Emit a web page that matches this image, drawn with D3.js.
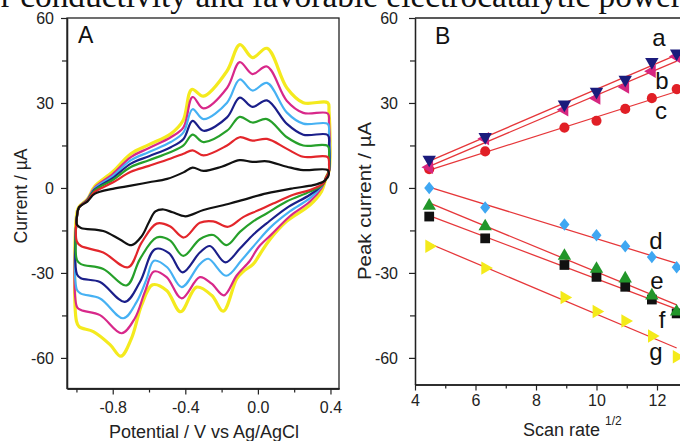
<!DOCTYPE html>
<html>
<head>
<meta charset="utf-8">
<script src="https://cdn.jsdelivr.net/npm/d3@7"></script>
<style>
  html, body { margin: 0; padding: 0; background: #fff; }
  svg { display: block; font-family: "Liberation Sans", Arial, sans-serif; }
</style>
</head>
<body>
<svg id="chart" width="680" height="441"></svg>
<script>
// Panel A: cyclic voltammograms, each a closed loop of [potential (V), current (uA)]
// upper (anodic) branch left -> right, then lower (cathodic) branch right -> left
const cvBlack = [
  [-0.997,-10],[-0.985,-6.8],[-0.94,-4.8],[-0.9,-2.1],[-0.8,-0.3],[-0.7,0.8],[-0.6,2],[-0.5,3.2],[-0.41,5.5],[-0.36,7.2],[-0.3,6],[-0.2,7.5],[-0.1,9.8],[-0.03,9.2],[0.05,9.4],[0.16,7.5],[0.25,6.3],[0.385,6.3],[0.39,4.5],[0.375,3],
  [0.36,2.2],[0.305,1.0],[0.195,-0.1],[0.048,-1.9],[-0.081,-4.2],[-0.154,-5.5],[-0.3,-7.8],[-0.4,-10],[-0.47,-8.6],[-0.52,-7.6],[-0.565,-8.3],[-0.6,-12],[-0.64,-17],[-0.696,-20.2],[-0.76,-18.2],[-0.852,-15.2],[-0.975,-14.1],[-0.997,-13]
];
const cvRed = [
  [-0.997,-10],[-0.985,-6.8],[-0.94,-4.5],[-0.9,-1.4],[-0.8,1.9],[-0.7,5.7],[-0.6,7.8],[-0.48,10.4],[-0.41,12.1],[-0.36,13.3],[-0.3,11.5],[-0.17,15],[-0.1,17.9],[-0.03,16.7],[0.05,17.3],[0.16,13.8],[0.25,11],[0.385,10.9],[0.392,8],[0.392,6],[0.375,3.5],
  [0.36,1.6],[0.287,-0.7],[0.195,-2.4],[0.084,-5.5],[0.002,-7.9],[-0.081,-10.3],[-0.164,-13.7],[-0.246,-11.8],[-0.32,-12.3],[-0.408,-17.5],[-0.485,-13.5],[-0.558,-12.6],[-0.641,-19.3],[-0.715,-28],[-0.852,-22.8],[-0.975,-20.5],[-0.997,-19]
];
const cvGreen = [
  [-0.997,-10],[-0.985,-6.8],[-0.94,-4.4],[-0.9,-0.9],[-0.8,2.8],[-0.7,7.4],[-0.6,9.8],[-0.48,12.7],[-0.41,15],[-0.36,18.8],[-0.3,16.2],[-0.17,20.2],[-0.1,25.1],[-0.03,23.1],[0.05,24.3],[0.16,17.9],[0.25,15],[0.385,14.8],[0.392,11],[0.392,6],[0.375,3.5],
  [0.36,1.3],[0.287,-1.3],[0.158,-4.8],[0.048,-9],[-0.026,-11.8],[-0.099,-15.5],[-0.172,-20.2],[-0.246,-16.6],[-0.32,-18.1],[-0.411,-24],[-0.485,-18.5],[-0.558,-17.5],[-0.65,-25.1],[-0.723,-34.4],[-0.852,-28.6],[-0.975,-26.9],[-0.997,-25.5]
];
const cvNavy = [
  [-0.997,-10],[-0.985,-6.8],[-0.94,-4.3],[-0.9,-0.6],[-0.8,3.5],[-0.7,8.6],[-0.6,11.2],[-0.48,14.4],[-0.41,17.3],[-0.36,23.7],[-0.3,20.2],[-0.17,24.9],[-0.1,31.9],[-0.03,28.6],[0.05,30.9],[0.16,22.6],[0.25,18.8],[0.385,18.7],[0.392,15],[0.392,6],[0.375,3.5],
  [0.35,0.8],[0.287,-2.4],[0.158,-7.1],[0.048,-12.5],[-0.026,-16.5],[-0.099,-21.4],[-0.18,-26.3],[-0.264,-20.5],[-0.32,-22.8],[-0.415,-29.8],[-0.49,-23],[-0.567,-21.6],[-0.65,-33.2],[-0.733,-40.2],[-0.87,-33.2],[-0.975,-31.9],[-0.997,-30.5]
];
const cvLightBlue = [
  [-0.997,-10],[-0.985,-6.8],[-0.94,-4.2],[-0.9,-0.2],[-0.8,4.2],[-0.7,9.8],[-0.6,12.7],[-0.48,16.2],[-0.41,19.6],[-0.36,27.8],[-0.3,24.3],[-0.17,30.1],[-0.1,38.3],[-0.03,34.4],[0.05,37.1],[0.16,26.6],[0.25,22.7],[0.385,22.6],[0.392,19],[0.392,6],[0.375,3.5],
  [0.35,0.5],[0.287,-3.6],[0.176,-8.3],[0.066,-14.1],[-0.007,-19.3],[-0.09,-25.5],[-0.175,-31],[-0.273,-25],[-0.32,-26.9],[-0.42,-35],[-0.5,-28],[-0.573,-25.7],[-0.613,-32.1],[-0.668,-40.2],[-0.742,-46],[-0.87,-39],[-0.975,-37.3],[-0.997,-36]
];
const cvMagenta = [
  [-0.997,-10],[-0.985,-6.8],[-0.94,-4.1],[-0.9,0.1],[-0.8,4.9],[-0.7,10.9],[-0.6,14.1],[-0.48,17.9],[-0.41,21.4],[-0.36,32.1],[-0.3,28.1],[-0.17,35.3],[-0.1,44.4],[-0.03,40.2],[0.05,42.9],[0.16,30.7],[0.25,26.5],[0.385,26.3],[0.392,23],[0.392,6],[0.375,3.5],
  [0.35,-0.1],[0.287,-4.8],[0.176,-10],[0.075,-16.4],[0.002,-21],[-0.044,-25.7],[-0.117,-30.9],[-0.187,-37.9],[-0.255,-33.8],[-0.32,-31.5],[-0.42,-39],[-0.503,-31.5],[-0.573,-29.5],[-0.623,-36.7],[-0.678,-46],[-0.751,-51.3],[-0.87,-44.9],[-0.975,-43.1],[-0.997,-42]
];
const cvYellow = [
  [-1.0,-10],[-0.988,-6.8],[-0.94,-4.0],[-0.9,0.5],[-0.8,5.7],[-0.7,12.1],[-0.6,15.3],[-0.48,19.1],[-0.413,23.7],[-0.364,34.8],[-0.3,32.4],[-0.171,41.2],[-0.099,50.6],[-0.03,46],[0.05,49.3],[0.16,35.3],[0.25,30.1],[0.385,30.1],[0.392,27],[0.392,6],[0.378,4],
  [0.35,-1.3],[0.287,-6],[0.158,-11.8],[0.066,-18.2],[0.011,-23.4],[-0.026,-26.9],[-0.081,-29.5],[-0.117,-32.1],[-0.191,-43.5],[-0.255,-37.9],[-0.338,-35],[-0.426,-43.7],[-0.503,-36.2],[-0.58,-34.2],[-0.641,-41.4],[-0.696,-53],[-0.755,-59.4],[-0.815,-55.3],[-0.907,-50.7],[-0.985,-49],[-1.0,-47]
];
const cvColors = ['#f4ea1e', '#d8288a', '#46b1f3', '#1b1f8a', '#26a02a', '#e3262b', '#111111'];

const potentialMajor = [-0.8, -0.4, 0.0, 0.4];
const potentialMinor = [-1.0, -0.6, -0.2, 0.2];
const currentMajor = [-60, -30, 0, 30, 60];
const currentMinor = [-45, -15, 15, 45];

// Panel B: peak currents vs square root of scan rate
const sqrtScanRate = [4.47, 6.32, 8.94, 10.0, 10.95, 11.83, 12.65];
const peakA = [10, 18, 29.5, 34, 38.2, 44.5, 47.5];
const peakB = [7.3, 17.4, 27.6, 31.7, 35.6, 41.2, 46.4];
const peakC = [6.6, 12.9, 21.3, 23.7, 27.9, 31.7, 34.9];
const peakD = [0, -6.9, -12.9, -16.7, -20.6, -24.4, -28];
const peakE = [-6.3, -13.6, -24, -28.6, -32, -38, -43.7];
const peakF = [-10.1, -17.8, -27.2, -31.4, -34.9, -39.4, -44.3];
const peakG = [-20.6, -28.3, -38.7, -43.6, -47, -52.3, -59.6];
const seriesNames = ['a', 'b', 'c', 'd', 'e', 'f', 'g'];
const rateMajor = [4, 6, 8, 10, 12];
const rateMinor = [5, 7, 9, 11];

const svg = d3.select('#chart');
svg.append('rect').attr('width', 680).attr('height', 441).attr('fill', '#fff');

// caption line of the page above the figure, mostly cut off
svg.append('text')
  .attr('x', -16).attr('y', 7)
  .attr('font-family', '"Liberation Serif", "Times New Roman", serif')
  .attr('font-size', 33)
  .attr('textLength', 698).attr('lengthAdjust', 'spacingAndGlyphs')
  .attr('fill', '#111')
  .text('or conductivity and favorable electrocatalytic power');

const axisColor = '#222';
function styleAxis(g) {
  g.select('.domain').attr('stroke', axisColor).attr('stroke-width', 1.3);
  g.selectAll('.tick line').attr('stroke', axisColor).attr('stroke-width', 1.2);
  g.selectAll('.tick text').attr('fill', '#222').attr('font-size', 16)
    .attr('font-family', '"Liberation Sans", Arial, sans-serif');
}

// ---------- Panel A ----------
const xA = d3.scaleLinear().domain([-1.052, 0.447]).range([67, 339]);
const yA = d3.scaleLinear().domain([-70.8, 60]).range([388.5, 18]);

const cvLine = d3.line()
  .x(d => xA(d[0]))
  .y(d => yA(d[1]))
  .curve(d3.curveCatmullRomClosed.alpha(0.5));

const cvLoops = [cvYellow, cvMagenta, cvLightBlue, cvNavy, cvGreen, cvRed, cvBlack];
svg.append('g').selectAll('path')
  .data(cvLoops)
  .join('path')
  .attr('d', cvLine)
  .attr('fill', 'none')
  .attr('stroke', (d, i) => cvColors[i])
  .attr('stroke-width', (d, i) => i === 0 ? 3.2 : 2.2)
  .attr('stroke-linejoin', 'round');

svg.append('rect')
  .attr('x', 67).attr('y', 18).attr('width', 339 - 67).attr('height', 388.5 - 18)
  .attr('fill', 'none').attr('stroke', axisColor).attr('stroke-width', 1.3);

svg.append('g').attr('transform', 'translate(0,388.5)')
  .call(d3.axisBottom(xA).tickValues(potentialMinor).tickSize(4).tickSizeOuter(0).tickFormat(''))
  .call(styleAxis);
svg.append('g').attr('transform', 'translate(0,388.5)')
  .call(d3.axisBottom(xA).tickValues(potentialMajor).tickSize(6).tickPadding(7).tickSizeOuter(0)
    .tickFormat(d => d.toFixed(1)))
  .call(styleAxis);
svg.append('g').attr('transform', 'translate(67,0)')
  .call(d3.axisLeft(yA).tickValues(currentMinor).tickSize(5).tickSizeOuter(0).tickFormat(''))
  .call(styleAxis);
svg.append('g').attr('transform', 'translate(67,0)')
  .call(d3.axisLeft(yA).tickValues(currentMajor).tickSize(6).tickPadding(7).tickSizeOuter(0)
    .tickFormat(d => String(d)))
  .call(styleAxis);

svg.append('text').attr('x', 78).attr('y', 43).attr('font-size', 23).attr('fill', '#111').text('A');
svg.append('text').attr('x', 204).attr('y', 438).attr('text-anchor', 'middle')
  .attr('font-size', 18).attr('fill', '#222').text('Potential / V vs Ag/AgCl');
svg.append('text').attr('transform', 'translate(27,196) rotate(-90)')
  .attr('text-anchor', 'middle').attr('font-size', 17.5).attr('fill', '#222')
  .attr('textLength', 95).attr('lengthAdjust', 'spacingAndGlyphs')
  .text('Current / \u00b5A');

// ---------- Panel B ----------
const xB = d3.scaleLinear().domain([4, 14]).range([415, 717.5]);
const yB = d3.scaleLinear().domain([-69.4, 60]).range([384.5, 18]);

const peakSeries = [peakA, peakB, peakC, peakD, peakE, peakF, peakG];
const peakColors = ['#1b1b7c', '#d6267f', '#e11f26', '#3fa7f2', '#22962a', '#111111', '#f4ea1a'];
const labelPos = [[659, 46], [662, 89], [661, 119], [656, 249], [657, 289], [662, 328], [656, 360]];

// least-squares fit lines through each series
function fit(ys) {
  const xs = sqrtScanRate;
  const mx = d3.mean(xs), my = d3.mean(ys);
  const slope = d3.sum(xs, (x, i) => (x - mx) * (ys[i] - my)) / d3.sum(xs, x => (x - mx) ** 2);
  const x0 = d3.min(xs), x1 = d3.max(xs);
  return [[x0, my + slope * (x0 - mx)], [x1, my + slope * (x1 - mx)]];
}

const gB = svg.append('g');
gB.selectAll('line.fit')
  .data(peakSeries)
  .join('line')
  .attr('class', 'fit')
  .each(function (ys) {
    const f = fit(ys);
    d3.select(this)
      .attr('x1', xB(f[0][0])).attr('y1', yB(f[0][1]))
      .attr('x2', xB(f[1][0])).attr('y2', yB(f[1][1]));
  })
  .attr('stroke', '#e6373a').attr('stroke-width', 1.3);

const diamond = 'M0,-6.2L5,0L0,6.2L-5,0Z';
const markerShapes = [
  { type: d3.symbolTriangle, size: 78, rot: 180 },
  { type: d3.symbolTriangle, size: 78, rot: -90 },
  { type: d3.symbolCircle, size: 80, rot: 0 },
  { type: null, size: 0, rot: 0 },
  { type: d3.symbolTriangle, size: 78, rot: 0 },
  { type: d3.symbolSquare, size: 95, rot: 0 },
  { type: d3.symbolTriangle, size: 78, rot: 90 }
];
// draw in order so that green sits over black like the original
const drawOrder = [6, 5, 4, 3, 2, 1, 0];
drawOrder.forEach(si => {
  const m = markerShapes[si];
  const path = m.type ? d3.symbol().type(m.type).size(m.size)() : diamond;
  gB.append('g').selectAll('path')
    .data(peakSeries[si])
    .join('path')
    .attr('d', path)
    .attr('transform', (d, i) => `translate(${xB(sqrtScanRate[i])},${yB(d)}) rotate(${m.rot})`)
    .attr('fill', peakColors[si]);
});

gB.selectAll('text.series')
  .data(seriesNames)
  .join('text')
  .attr('class', 'series')
  .attr('x', (d, i) => labelPos[i][0]).attr('y', (d, i) => labelPos[i][1])
  .attr('text-anchor', 'middle').attr('font-size', 24).attr('fill', '#111')
  .text(d => d);

svg.append('line').attr('x1', 415).attr('x2', 717.5).attr('y1', 18).attr('y2', 18)
  .attr('stroke', axisColor).attr('stroke-width', 1.3);

svg.append('g').attr('transform', 'translate(0,384.5)')
  .call(d3.axisBottom(xB).tickValues(rateMinor).tickSize(4).tickSizeOuter(0).tickFormat(''))
  .call(styleAxis);
svg.append('g').attr('transform', 'translate(0,384.5)')
  .call(d3.axisBottom(xB).tickValues(rateMajor).tickSize(6).tickPadding(4).tickSizeOuter(0)
    .tickFormat(d => String(d)))
  .call(styleAxis);
svg.append('g').attr('transform', 'translate(415,0)')
  .call(d3.axisLeft(yB).tickValues(currentMinor).tickSize(5).tickSizeOuter(0).tickFormat(''))
  .call(styleAxis);
svg.append('g').attr('transform', 'translate(415,0)')
  .call(d3.axisLeft(yB).tickValues(currentMajor).tickSize(6).tickPadding(11).tickSizeOuter(0)
    .tickFormat(d => String(d)))
  .call(styleAxis);

svg.append('text').attr('x', 435).attr('y', 44).attr('font-size', 23).attr('fill', '#111').text('B');
svg.append('text').attr('x', 523).attr('y', 436).attr('font-size', 18).attr('fill', '#222').text('Scan rate');
svg.append('text').attr('x', 605).attr('y', 425).attr('font-size', 12).attr('fill', '#222').text('1/2');
svg.append('text').attr('transform', 'translate(371,201) rotate(-90)')
  .attr('text-anchor', 'middle').attr('font-size', 17.5).attr('fill', '#222')
  .attr('textLength', 158).attr('lengthAdjust', 'spacingAndGlyphs')
  .text('Peak current / \u00b5A');
</script>
</body>
</html>
